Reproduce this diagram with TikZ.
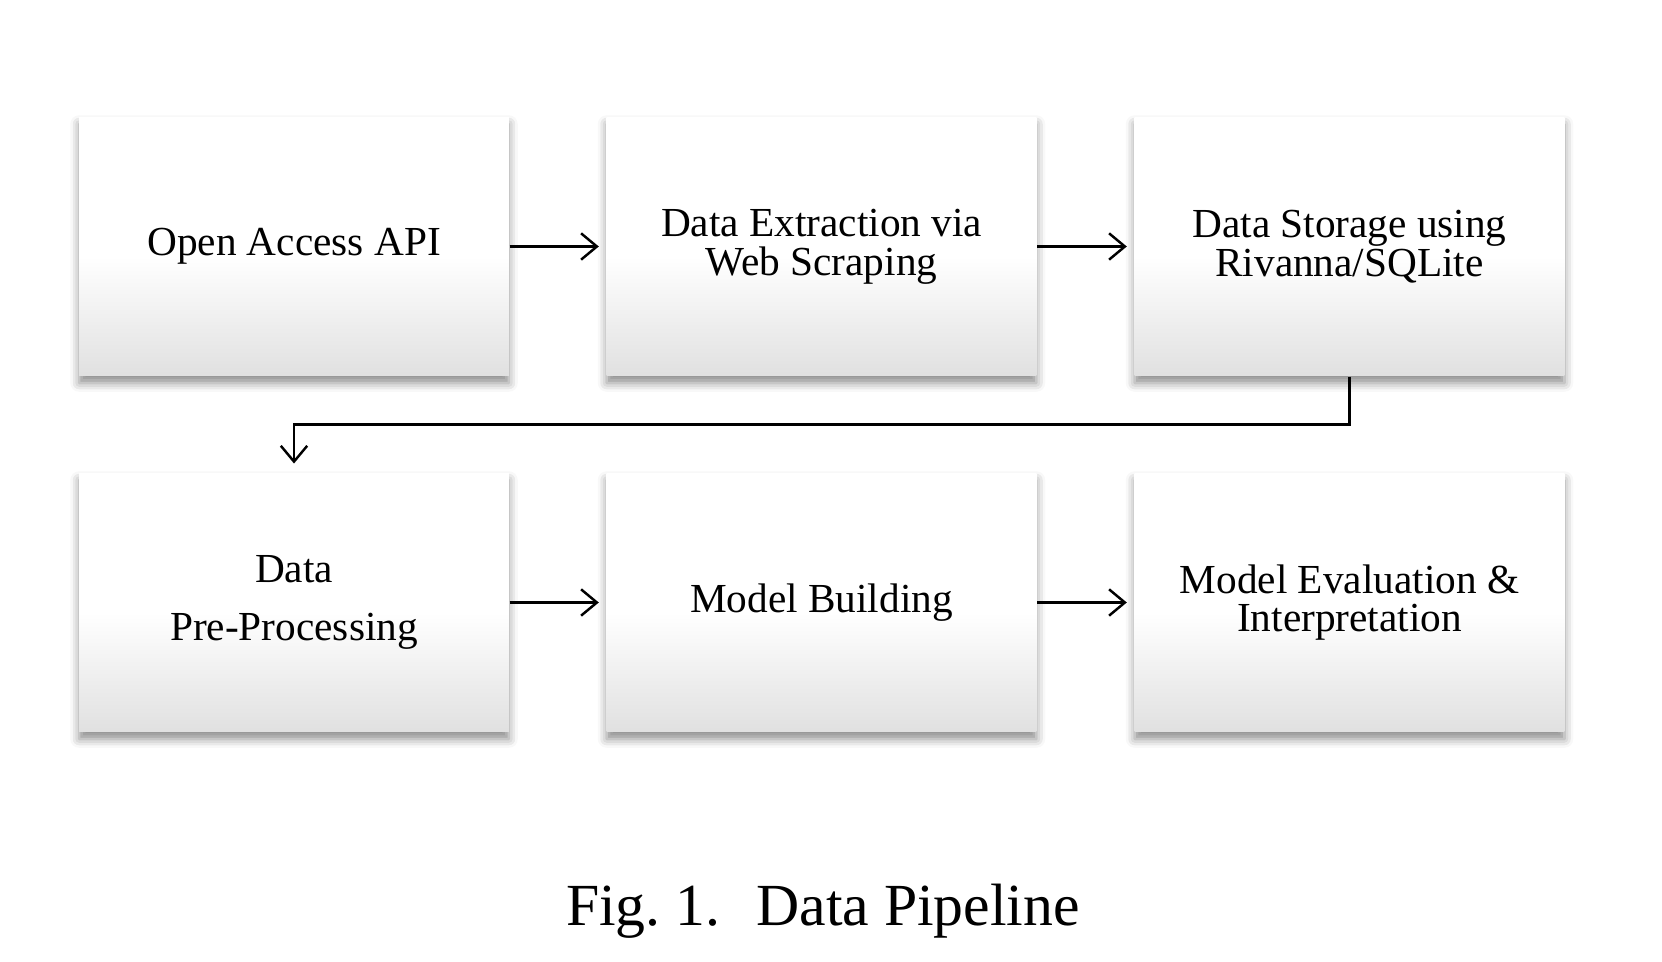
\documentclass[tikz,border=0pt]{standalone}
\usepackage{fontspec}
\setmainfont{Liberation Serif}
\usepackage{tikz}
\usetikzlibrary{shadows.blur}
\usetikzlibrary{arrows.meta}
\usetikzlibrary{positioning}
\pgfdeclareverticalshading{stagefill}{100bp}{color(0bp)=(black!12); color(25bp)=(black!12); color(48bp)=(white); color(100bp)=(white)}
\tikzset{
    stage/.style = {rectangle, align=center, inner sep=0pt,
        minimum width=8.6cm, minimum height=5.18cm,
        shading=stagefill,
        blur shadow={shadow xshift=0pt, shadow yshift=-4pt, shadow blur radius=5pt, shadow opacity=45},
        font=\fontsize{23.5}{22}\selectfont},
}
\begin{document}
\begin{tikzpicture}[
	x=0.02cm, y=-0.02cm,
	thick,
	font=\fontsize{34}{40}\selectfont
]
\tikzset{
    flow/.style = {-{Straight Barb[length=9pt,width=15pt,line width=1.4pt]}, line width=1.4pt, shorten >=4pt},
}
\useasboundingbox (0,0) rectangle (1662,962);
\node[stage] at (294,246.5) (api) {Open Access API};
\node[stage] at (821.5,246.5) (scrape) {Data Extraction via\\Web Scraping};
\node[stage] at (1349.5,246.5) (store) {Data Storage using\\Rivanna/SQLite};
\node[stage] at (294,602.5) (prep) {Data\\[11.5pt]Pre-Processing};
\node[stage] at (821.5,602.5) (model) {Model Building};
\node[stage] at (1349.5,602.5) (eval) {Model Evaluation \&\\Interpretation};
%
\draw[flow] (api) edge (scrape);
\draw[flow] (scrape) edge (store);
\draw[flow, shorten >=5pt] (store.south) -- ++(0,48) -| (prep.north);
\draw[flow] (prep) edge (model);
\draw[flow] (model) edge (eval);
%
\node[anchor=base] at (823,925) (caption) {Fig.~1.\hspace{0.6em}Data Pipeline};
\end{tikzpicture}
\end{document}
